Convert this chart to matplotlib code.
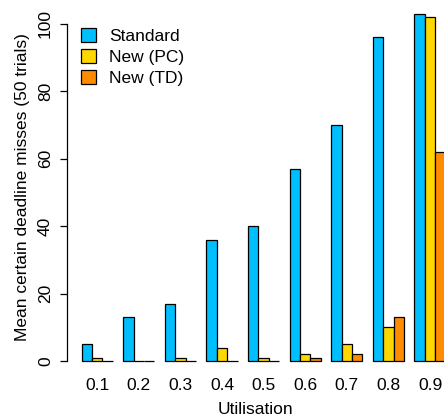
import numpy as np
import matplotlib.pyplot as plt

plt.rcParams['font.family'] = ['Liberation Sans', 'DejaVu Sans']

utilisation = ['0.1', '0.2', '0.3', '0.4', '0.5', '0.6', '0.7', '0.8', '0.9']
standard = [5, 13, 17, 36, 40, 57, 70, 96, 103]
new_pc = [1, 0, 1, 4, 1, 2, 5, 10, 102]
new_td = [0, 0, 0, 0, 0, 1, 2, 13, 62]

series = [('Standard', standard, '#00BFFF'),
          ('New (PC)', new_pc, '#FFD700'),
          ('New (TD)', new_td, '#FF8C00')]

W, H = 444, 420
fig = plt.figure(figsize=(W / 100, H / 100), dpi=100)
# axes placed in pixels: left 67, right 444, top 0, bottom 375
ax = fig.add_axes([67 / W, (H - 375) / H, (W - 67) / W, 375 / H])

# R style barplot: groups of 3 unit-wide bars, one unit gap before each group
groups = np.arange(len(utilisation)) * 4 + 1
for k, (name, vals, col) in enumerate(series):
    ax.bar(groups + k, vals, width=1, align='edge', color=col,
           edgecolor='black', linewidth=0.9, label=name)

ax.set_xlim(-0.41, 35.84)
ax.set_ylim(-4.15, 107.1)

for s in ['top', 'right', 'bottom']:
    ax.spines[s].set_visible(False)
ax.spines['left'].set_bounds(0, 100)
ax.spines['left'].set_linewidth(0.9)

fs = 12.5
ax.set_yticks([0, 20, 40, 60, 80, 100])
ax.tick_params(axis='y', length=5, width=0.9, labelsize=fs, pad=5)
for t in ax.get_yticklabels():
    t.set_rotation(90)
    t.set_va('center')

ax.set_xticks(groups + 1.5)
ax.set_xticklabels(utilisation)
ax.tick_params(axis='x', length=0, labelsize=fs, pad=2)

ax.set_xlabel('Utilisation', fontsize=fs, labelpad=7)
ax.set_ylabel('Mean certain deadline misses (50 trials)', fontsize=fs, labelpad=6)

ax.legend(loc='upper left', bbox_to_anchor=(74 / W, 1 - 21 / H),
          bbox_transform=fig.transFigure, frameon=False, fontsize=fs,
          handlelength=0.85, handleheight=0.85, handletextpad=0.75,
          labelspacing=0.3, borderaxespad=0)

fig.savefig('out.png', dpi=100)
